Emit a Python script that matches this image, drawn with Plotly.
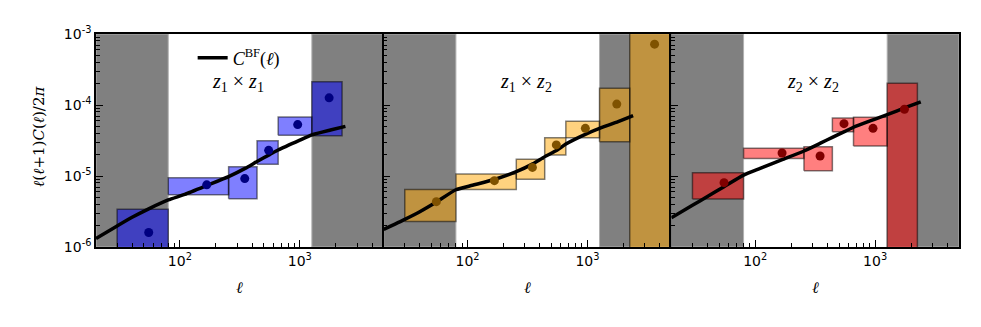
import plotly.graph_objects as go
from plotly.subplots import make_subplots

# multipole bins (edges and centres)
ell_lo = [30, 80, 255, 440, 660, 1260, 2250]
ell_hi = [80, 255, 440, 660, 1260, 2250, 5000]
ell_mid = [55, 167.5, 347.5, 550, 960, 1755, 3625]

# masked (grey) multipole ranges
mask_lo = [20, 80]
mask_hi = [1260, 5000]

# measured bandpowers, lower / upper error per bin
z11_val = [1.6e-6, 7.5e-6, 9.2e-6, 2.3e-5, 5.3e-5, 1.26e-4]
z11_low = [7e-7, 5.46e-6, 4.8e-6, 1.46e-5, 3.74e-5, 3.7e-5]
z11_high = [3.4e-6, 9.46e-6, 1.35e-5, 3.14e-5, 6.78e-5, 2.13e-4]

z12_val = [4.35e-6, 8.6e-6, 1.32e-5, 2.74e-5, 4.69e-5, 1.03e-4, 7.2e-4]
z12_low = [2.28e-6, 6.48e-6, 8.97e-6, 1.98e-5, 3.47e-5, 3.04e-5, 1e-7]
z12_high = [6.48e-6, 1.07e-5, 1.72e-5, 3.47e-5, 5.89e-5, 1.72e-4, 5e-3]

z22_val = [8.05e-6, 2.11e-5, 1.91e-5, 5.46e-5, 4.69e-5, 8.7e-5]
z22_low = [4.74e-6, 1.77e-5, 1.19e-5, 4.21e-5, 2.65e-5, 1e-7]
z22_high = [1.11e-5, 2.45e-5, 2.59e-5, 6.56e-5, 6.7e-5, 2.02e-4]

# best-fit theory curves
ell_th = [20, 30, 40, 55, 80, 110, 170, 255, 350, 440, 560, 660, 1000, 1260, 1800, 2400]
th_11 = [1.32e-6, 1.98e-6, 2.62e-6, 3.45e-6, 4.6e-6, 5.5e-6, 7.4e-6, 9.8e-6, 1.28e-5,
         1.6e-5, 2.0e-5, 2.32e-5, 3.2e-5, 3.8e-5, 4.45e-5, 5.0e-5]
th_12 = [1.77e-6, 2.45e-6, 3.14e-6, 4.3e-6, 6.4e-6, 7.4e-6, 9.0e-6, 1.15e-5, 1.48e-5,
         1.87e-5, 2.32e-5, 2.82e-5, 3.99e-5, 4.69e-5, 5.82e-5, 7.08e-5]
th_22 = [2.58e-6, 3.86e-6, 5.15e-6, 7.08e-6, 1.03e-5, 1.28e-5, 1.71e-5, 2.25e-5, 2.9e-5,
         3.5e-5, 4.26e-5, 4.86e-5, 6.33e-5, 7.33e-5, 9.23e-5, 1.11e-4]

panel_labels = ["<i>z</i><sub>1</sub> × <i>z</i><sub>1</sub>",
                "<i>z</i><sub>1</sub> × <i>z</i><sub>2</sub>",
                "<i>z</i><sub>2</sub> × <i>z</i><sub>2</sub>"]

x_tickvals = [100, 1000]
x_ticktext = ["10<sup>2</sup>", "10<sup>3</sup>"]
y_tickvals = [1e-6, 1e-5, 1e-4, 1e-3]
y_ticktext = ["10<sup>-6</sup>", "10<sup>-5</sup>", "10<sup>-4</sup>", "10<sup>-3</sup>"]

XMIN, XMAX = 20, 5000
YMIN, YMAX = 1e-6, 1e-3

panels = [
    (z11_val, z11_low, z11_high, th_11, "rgba(0,0,255,0.5)", "#000080"),
    (z12_val, z12_low, z12_high, th_12, "rgba(255,165,0,0.5)", "#7f5200"),
    (z22_val, z22_low, z22_high, th_22, "rgba(255,0,0,0.5)", "#800000"),
]

fig = make_subplots(rows=1, cols=3, shared_yaxes=True, horizontal_spacing=0)

for i, (val, low, high, th, fill, dot) in enumerate(panels):
    col = i + 1
    # grey masked regions
    for a, b in [mask_lo, mask_hi]:
        fig.add_trace(go.Scatter(
            x=[a, b, b, a, a], y=[YMIN, YMIN, YMAX, YMAX, YMIN],
            fill="toself", fillcolor="#808080", mode="lines",
            line=dict(color="#b0b0b0", width=1), hoverinfo="skip", showlegend=False
        ), row=1, col=col)

    # bandpower boxes
    bx, by = [], []
    for k in range(len(val)):
        lo, hi = ell_lo[k], ell_hi[k]
        bx += [lo, hi, hi, lo, lo, None]
        by += [low[k], low[k], high[k], high[k], low[k], None]
    fig.add_trace(go.Scatter(
        x=bx, y=by, fill="toself", fillcolor=fill, mode="lines",
        line=dict(color="rgba(0,0,0,0.5)", width=1.5), hoverinfo="skip", showlegend=False
    ), row=1, col=col)

    # theory
    fig.add_trace(go.Scatter(
        x=ell_th, y=th, mode="lines", line=dict(color="black", width=3.5, shape="spline", smoothing=0.5),
        name="<i>C</i><sup>BF</sup>(<i>ℓ</i>)", showlegend=(i == 0)
    ), row=1, col=col)

    # measured points
    fig.add_trace(go.Scatter(
        x=ell_mid[:len(val)], y=val, mode="markers",
        marker=dict(color=dot, size=9), showlegend=False
    ), row=1, col=col)

axis_common = dict(
    type="log", showline=True, mirror=True, linecolor="black", linewidth=1.5,
    ticks="inside", ticklen=7, tickwidth=1, tickcolor="black", showgrid=False,
    tickfont=dict(family="DejaVu Sans", size=14, color="black"),
)
minor_x = [m * 10 ** e for e in range(1, 4) for m in range(2, 10) if XMIN <= m * 10 ** e <= XMAX]
minor_y = [m * 10.0 ** e for e in range(-6, -3) for m in range(2, 10)]

for col in range(1, 4):
    fig.update_xaxes(axis_common, range=[1.30103, 3.69897], tickvals=x_tickvals, ticktext=x_ticktext,
                     minor=dict(tickvals=minor_x, ticks="inside", ticklen=4, tickcolor="black", showgrid=False),
                     row=1, col=col)
    fig.update_yaxes(axis_common, range=[-6, -3], tickvals=y_tickvals, ticktext=y_ticktext,
                     minor=dict(tickvals=minor_y, ticks="inside", ticklen=4, tickcolor="black", showgrid=False),
                     row=1, col=col)

# panel labels and x titles
label_x = [0.1645, 0.498, 0.831]
for i in range(3):
    fig.add_annotation(text=panel_labels[i], x=label_x[i], y=0.77, xref="paper", yref="paper",
                       xanchor="center", yanchor="middle", showarrow=False,
                       font=dict(family="Liberation Serif, DejaVu Serif", size=20, color="black"))
    fig.add_annotation(text="<i>ℓ</i>", x=(i + 0.5) / 3, y=-0.19, xref="paper", yref="paper",
                       xanchor="center", yanchor="middle", showarrow=False,
                       font=dict(family="DejaVu Serif", size=16, color="black"))

fig.add_annotation(text="<i>ℓ</i>(<i>ℓ</i>+1)<i>C</i>(<i>ℓ</i>)/2<i>π</i>", x=-0.078, y=0.52,
                   xref="paper", yref="paper", textangle=-90, showarrow=False,
                   font=dict(family="DejaVu Serif", size=15, color="black"))

# the page body adds an 8px margin, so the figure is sized to fit the window
fig.update_layout(
    width=973, height=319,
    margin=dict(l=88, r=22, t=26, b=80),
    plot_bgcolor="white", paper_bgcolor="white",
    legend=dict(x=0.112, y=0.887, xanchor="left", yanchor="middle", bgcolor="rgba(0,0,0,0)",
                font=dict(family="Liberation Serif, DejaVu Serif", size=18, color="black")),
)

fig.write_html("out.html")
